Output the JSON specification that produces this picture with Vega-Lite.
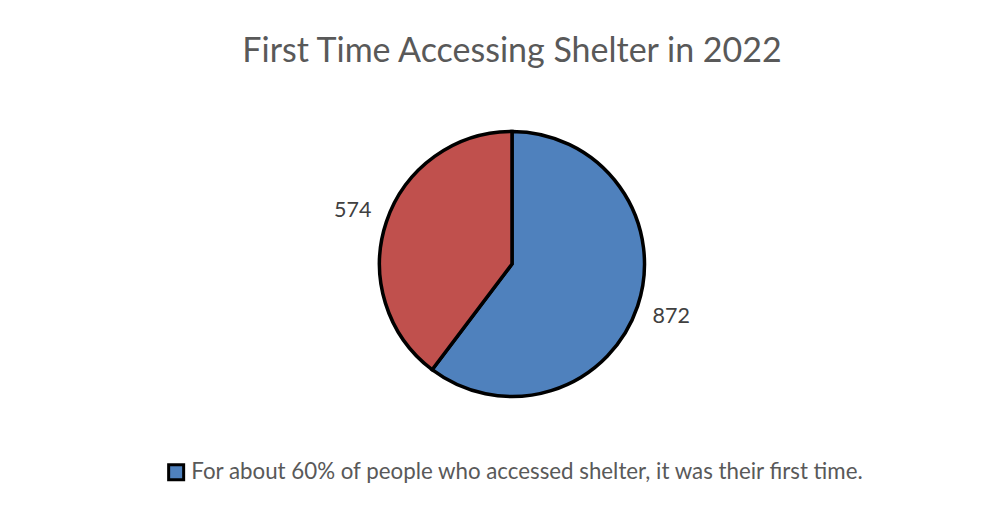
{
  "$schema": "https://vega.github.io/schema/vega-lite/v6.json",
  "autosize": {"type": "none"},
  "padding": {"left": 22, "top": 20, "right": 0, "bottom": 0},
  "width": 980,
  "height": 488,
  "background": "white",
  "title": {
    "text": "First Time Accessing Shelter in 2022",
    "anchor": "middle",
    "frame": "group",
    "orient": "top",
    "offset": 0,
    "dy": 76,
    "baseline": "alphabetic",
    "font": "Lato",
    "fontSize": 34,
    "fontWeight": "normal",
    "color": "#595959"
  },
  "data": {
    "values": [
      {"category": "For about 60% of people who accessed shelter, it was their first time.", "value": 872, "idx": 1},
      {"category": "Not their first time", "value": 574, "idx": 2}
    ]
  },
  "encoding": {
    "theta": {"field": "value", "type": "quantitative", "stack": true},
    "order": {"field": "idx", "type": "quantitative"}
  },
  "layer": [
    {
      "mark": {"type": "arc", "outerRadius": 132.5, "stroke": "black", "strokeWidth": 3.5},
      "encoding": {
        "color": {
          "field": "category",
          "type": "nominal",
          "scale": {
            "domain": ["For about 60% of people who accessed shelter, it was their first time.", "Not their first time"],
            "range": ["#4F81BD", "#C0504D"]
          },
          "legend": {
            "title": null,
            "values": ["For about 60% of people who accessed shelter, it was their first time."],
            "orient": "none",
            "legendX": 143,
            "legendY": 441,
            "padding": 0,
            "symbolType": "square",
            "symbolSize": 225,
            "symbolStrokeColor": "black",
            "symbolStrokeWidth": 3,
            "symbolOpacity": 1,
            "labelFont": "Lato",
            "labelFontSize": 22.3,
            "labelColor": "#595959",
            "labelOffset": 4,
            "labelLimit": 0
          }
        }
      }
    },
    {
      "mark": {"type": "text", "radius": 168, "font": "Lato", "fontSize": 21.5, "color": "#404040"},
      "encoding": {
        "text": {"field": "value", "type": "quantitative"}
      }
    }
  ],
  "config": {
    "view": {"stroke": null}
  }
}
